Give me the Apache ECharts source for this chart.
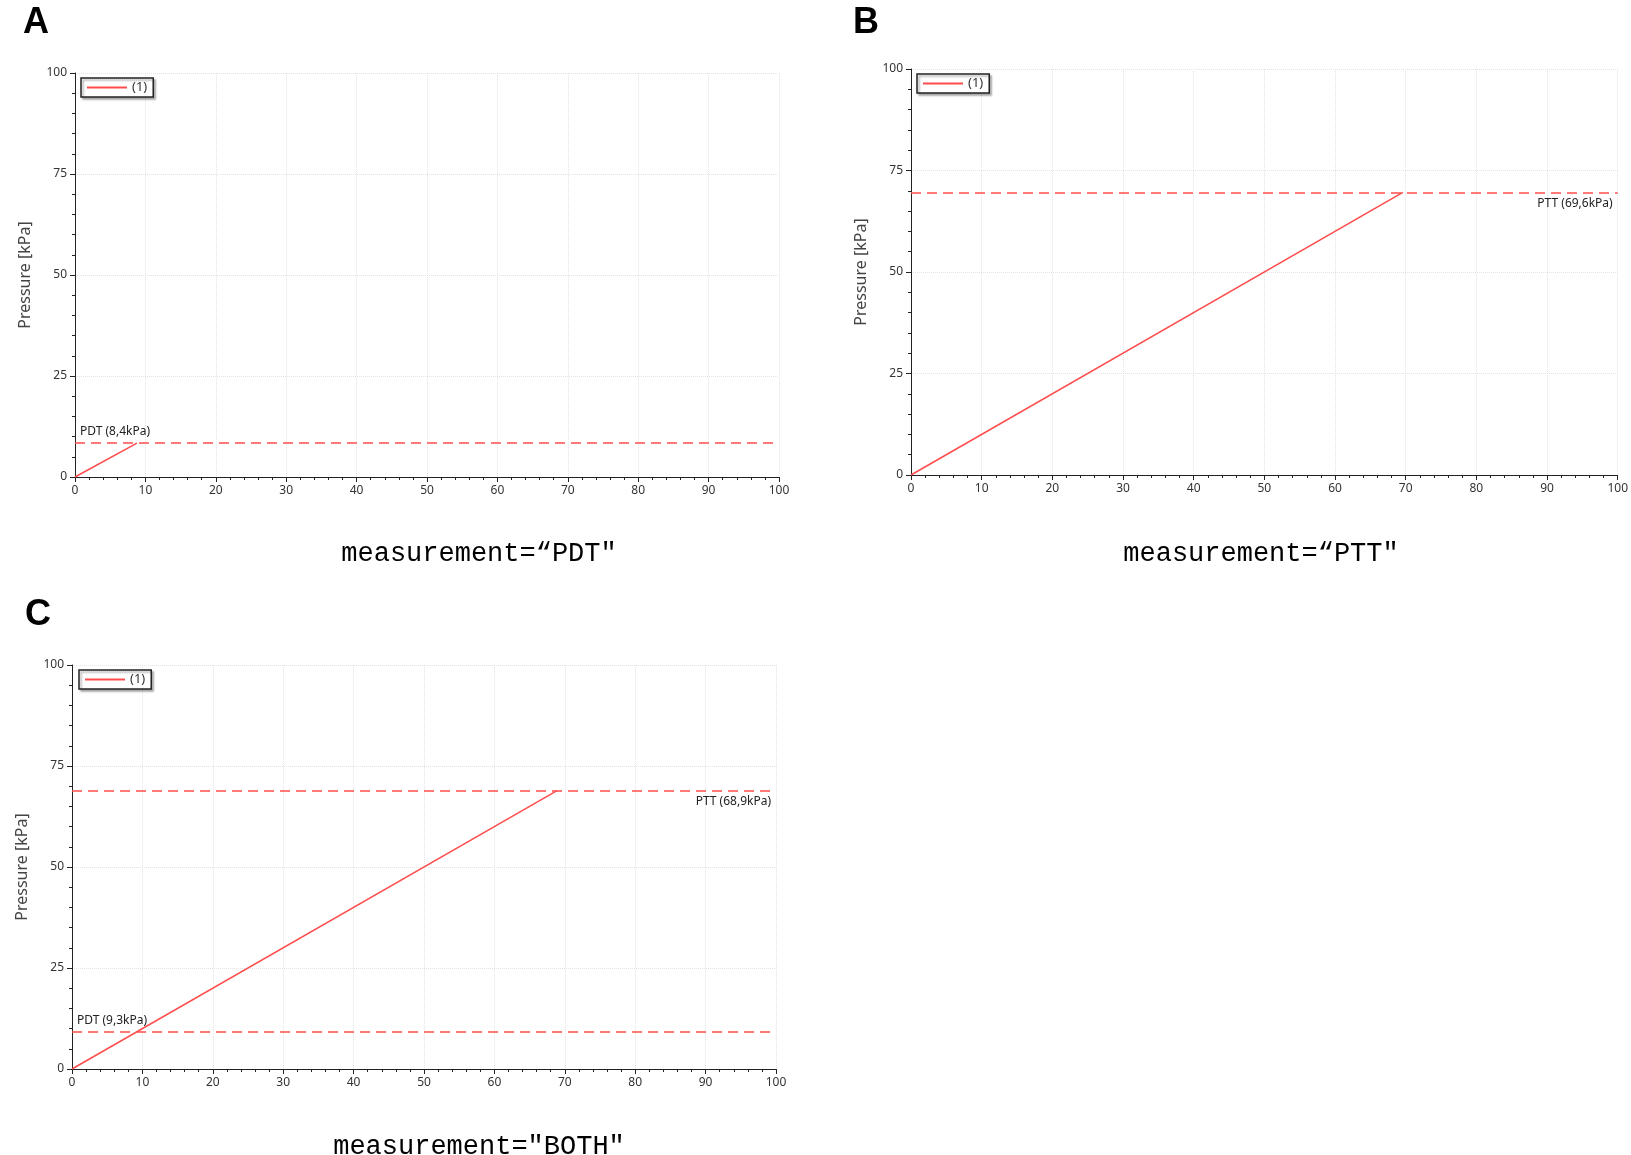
<!DOCTYPE html>
<html style="height: 100%">
<head><meta charset="utf-8"></head>
<body style="height: 100%; margin: 0; background: #fff">
<div id="container" style="height: 100%"></div>
<script src="https://cdn.jsdelivr.net/npm/echarts@6/dist/echarts.min.js"></script>
<script>
var lineA = [[0, 0], [8.8, 8.4]];
var lineB = [[0, 0], [69.6, 69.6]];
var lineC = [[0, 0], [68.9, 68.9]];
var pdtA = 8.4, pttB = 69.6, pttC = 68.9, pdtC = 9.3;
var captions = ['measurement=\u201cPDT"', 'measurement=\u201cPTT"', 'measurement="BOTH"'];

var chart = echarts.init(document.getElementById('container'));
var red = '#ff4d4d';
var grids = [
    {left: 75, width: 704, top: 73, height: 404},
    {left: 911, width: 707, top: 69, height: 406},
    {left: 72, width: 704, top: 665, height: 404}
];
var tickFont = {color: '#333', fontSize: 12, fontFamily: 'Noto Sans'};

function xAxis(i) {
    return {type: 'value', gridIndex: i, min: 0, max: 100, interval: 10,
        axisLine: {lineStyle: {color: '#222'}}, axisTick: {length: 5, lineStyle: {color: '#222'}},
        minorTick: {show: true, splitNumber: 5, length: 3, lineStyle: {color: '#222'}},
        axisLabel: tickFont,
        splitLine: {show: true, lineStyle: {color: '#e4e4e4', type: 'dotted'}}};
}
function yAxis(i) {
    return {type: 'value', gridIndex: i, min: 0, max: 100, interval: 25,
        name: 'Pressure [kPa]', nameLocation: 'middle', nameGap: 42,
        nameTextStyle: {fontSize: 16, color: '#444', fontFamily: 'Noto Sans'},
        axisLine: {show: true, lineStyle: {color: '#222'}}, axisTick: {show: true, length: 5, lineStyle: {color: '#222'}},
        minorTick: {show: true, splitNumber: 5, length: 3, lineStyle: {color: '#222'}},
        axisLabel: tickFont,
        splitLine: {show: true, lineStyle: {color: '#e4e4e4', type: 'dotted'}}};
}
function legend(i, left, top) {
    return {left: left, top: top, data: ['(1)'], orient: 'vertical',
        borderColor: '#222', borderWidth: 1.5, padding: [3, 6], itemWidth: 40, itemHeight: 2,
        shadowColor: 'rgba(0,0,0,0.3)', shadowBlur: 2, shadowOffsetX: 2, shadowOffsetY: 2, backgroundColor: '#fff',
        textStyle: {fontSize: 13, color: '#333', fontFamily: 'Noto Sans'}, icon: 'rect'};
}
function mark(y, text, pos) {
    return {yAxis: y, label: {show: true, formatter: text, position: pos, color: '#222', fontSize: 12, fontFamily: 'Noto Sans'}};
}
function series(i, data, marks) {
    return {type: 'line', name: '(1)', xAxisIndex: i, yAxisIndex: i, data: data, showSymbol: false,
        lineStyle: {color: red, width: 1.5}, itemStyle: {color: red},
        markLine: {symbol: 'none', silent: true, lineStyle: {color: red, type: [10, 6], width: 1.5}, data: marks}};
}
var title = function (t, l, tp) {
    return {text: t, left: l, top: tp, textStyle: {fontSize: 36, fontWeight: 'bold', fontFamily: 'Liberation Sans', color: '#000'}};
};
var cap = function (t, cx, tp) {
    return {text: t, left: cx, top: tp, textAlign: 'center',
        textStyle: {fontSize: 27, fontWeight: 'normal', fontFamily: 'Liberation Mono', color: '#000'}};
};

chart.setOption({
    animation: false,
    title: [title('A', 18, 0), title('B', 848, 0), title('C', 20, 592),
        cap(captions[0], 474, 535), cap(captions[1], 1256, 535), cap(captions[2], 474, 1128)],
    legend: [legend(0, 81, 78), legend(1, 917, 74), legend(2, 79, 670)],
    grid: grids,
    xAxis: [xAxis(0), xAxis(1), xAxis(2)],
    yAxis: [yAxis(0), yAxis(1), yAxis(2)],
    series: [
        series(0, lineA, [mark(pdtA, 'PDT (8,4kPa)', 'insideStartTop')]),
        series(1, lineB, [mark(pttB, 'PTT (69,6kPa)', 'insideEndBottom')]),
        series(2, lineC, [mark(pttC, 'PTT (68,9kPa)', 'insideEndBottom'), mark(pdtC, 'PDT (9,3kPa)', 'insideStartTop')])
    ]
});
</script>
</body>
</html>
